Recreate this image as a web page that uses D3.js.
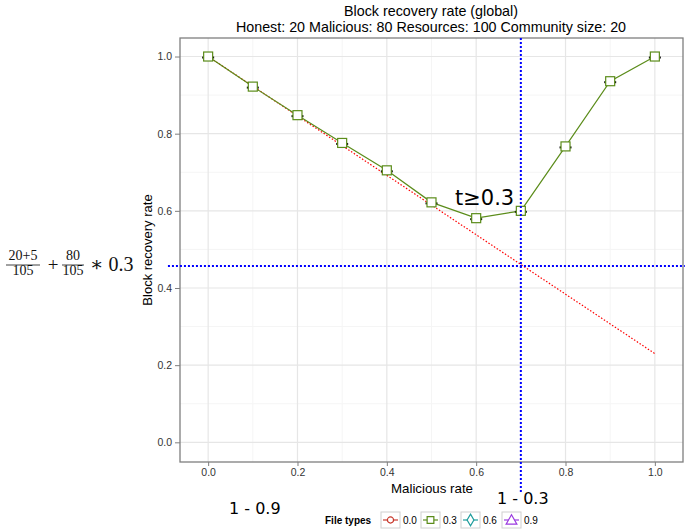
<!DOCTYPE html>
<html>
<head>
<meta charset="utf-8">
<script src="https://cdn.jsdelivr.net/npm/d3@7"></script>
<style>
  body { margin: 0; background: #fff; }
  svg { font-family: "Liberation Sans", Arial, sans-serif; }
</style>
</head>
<body>
<div id="chart"></div>
<script>
const rates = [0.0, 0.1, 0.2, 0.3, 0.4, 0.5, 0.6, 0.7, 0.8, 0.9, 1.0];
const recovery = [1.0, 0.922, 0.848, 0.776, 0.705, 0.622, 0.581, 0.600, 0.767, 0.936, 1.0];
const bound = [1.0, 0.923, 0.846, 0.769, 0.692, 0.615, 0.538, 0.461, 0.384, 0.307, 0.23];
const xTicks = [0.0, 0.2, 0.4, 0.6, 0.8, 1.0];
const yTicks = [0.0, 0.2, 0.4, 0.6, 0.8, 1.0];
const fileTypes = ['0.0', '0.3', '0.6', '0.9'];
const typeColors = ['#c8382c', '#5b8c1a', '#1e9c9c', '#9b3be0'];
const thresholdX = 0.7;
const thresholdY = 0.457;

const W = 685, H = 530;
const xScale = d3.scaleLinear().domain([-0.063, 1.063]).range([180, 683]);
const yScale = d3.scaleLinear().domain([-0.051, 1.048]).range([462, 38]);

const svg = d3.select('#chart').append('svg')
  .attr('width', W).attr('height', H);

// titles
svg.append('text').attr('x', 431).attr('y', 16).attr('text-anchor', 'middle')
  .attr('font-size', 14.3).text('Block recovery rate (global)');
svg.append('text').attr('x', 431).attr('y', 32).attr('text-anchor', 'middle')
  .attr('font-size', 14.3).text('Honest: 20 Malicious: 80 Resources: 100 Community size: 20');

// panel
const [x0, x1] = xScale.range();
const [y0, y1] = yScale.range();
svg.append('rect').attr('x', x0).attr('y', y1).attr('width', x1 - x0).attr('height', y0 - y1)
  .attr('fill', '#fff');

const minor = d3.range(0.1, 1.0, 0.2);
svg.append('g').selectAll('line.vmin').data(minor).join('line')
  .attr('x1', d => xScale(d)).attr('x2', d => xScale(d)).attr('y1', y1).attr('y2', y0)
  .attr('stroke', '#f5f5f5').attr('stroke-width', 1);
svg.append('g').selectAll('line.hmin').data(minor).join('line')
  .attr('y1', d => yScale(d)).attr('y2', d => yScale(d)).attr('x1', x0).attr('x2', x1)
  .attr('stroke', '#f5f5f5').attr('stroke-width', 1);
svg.append('g').selectAll('line.vmaj').data(xTicks).join('line')
  .attr('x1', d => xScale(d)).attr('x2', d => xScale(d)).attr('y1', y1).attr('y2', y0)
  .attr('stroke', '#e6e6e6').attr('stroke-width', 1.2);
svg.append('g').selectAll('line.hmaj').data(yTicks).join('line')
  .attr('y1', d => yScale(d)).attr('y2', d => yScale(d)).attr('x1', x0).attr('x2', x1)
  .attr('stroke', '#e6e6e6').attr('stroke-width', 1.2);

// axes
const xAxis = svg.append('g').attr('transform', `translate(0,${y0})`)
  .call(d3.axisBottom(xScale).tickValues(xTicks).tickFormat(d3.format('.1f')).tickSize(4).tickPadding(3));
const yAxis = svg.append('g').attr('transform', `translate(${x0},0)`)
  .call(d3.axisLeft(yScale).tickValues(yTicks).tickFormat(d3.format('.1f')).tickSize(5).tickPadding(3));
[xAxis, yAxis].forEach(a => {
  a.select('.domain').remove();
  a.attr('font-size', 10.5);
  a.selectAll('line').attr('stroke', '#7f7f7f');
  a.selectAll('text').attr('fill', '#333')
    .attr('font-family', '"Liberation Sans", Arial, sans-serif');
});

svg.append('rect').attr('x', x0).attr('y', y1).attr('width', x1 - x0).attr('height', y0 - y1)
  .attr('fill', 'none').attr('stroke', '#7f7f7f').attr('stroke-width', 1.3);

svg.append('text').attr('x', 432).attr('y', 493).attr('text-anchor', 'middle')
  .attr('font-size', 13.3).text('Malicious rate');
svg.append('text').attr('transform', `translate(152,${(y0 + y1) / 2}) rotate(-90)`)
  .attr('text-anchor', 'middle').attr('font-size', 13).text('Block recovery rate');

// red dotted bound
const line = d3.line().x((d, i) => xScale(rates[i])).y(d => yScale(d));
svg.append('path').datum(bound).attr('d', line)
  .attr('fill', 'none').attr('stroke', '#ff0000').attr('stroke-width', 1.2)
  .attr('stroke-dasharray', '1.5,1.8');

// green series
svg.append('path').datum(recovery).attr('d', line)
  .attr('fill', 'none').attr('stroke', typeColors[1]).attr('stroke-width', 1.2);

// error bar caps
svg.append('g').selectAll('line').data(recovery).join('line')
  .attr('x1', (d, i) => xScale(rates[i]) - 6).attr('x2', (d, i) => xScale(rates[i]) + 6)
  .attr('y1', d => yScale(d) + 1).attr('y2', d => yScale(d) + 1)
  .attr('stroke', '#111').attr('stroke-width', 2);

svg.append('g').selectAll('rect').data(recovery).join('rect')
  .attr('x', (d, i) => xScale(rates[i]) - 4.5).attr('y', d => yScale(d) - 4.5)
  .attr('width', 9).attr('height', 9)
  .attr('fill', '#fff').attr('stroke', typeColors[1]).attr('stroke-width', 1.2);

// threshold lines
svg.append('line')
  .attr('x1', xScale(-0.09)).attr('x2', xScale(1.067))
  .attr('y1', yScale(thresholdY)).attr('y2', yScale(thresholdY))
  .attr('stroke', '#0000ff').attr('stroke-width', 2).attr('stroke-dasharray', '2,2');
svg.append('line')
  .attr('x1', xScale(thresholdX)).attr('x2', xScale(thresholdX))
  .attr('y1', yScale(1.048)).attr('y2', yScale(-0.131))
  .attr('stroke', '#0000ff').attr('stroke-width', 2).attr('stroke-dasharray', '2,2');

// annotations
svg.append('text').attr('x', 455).attr('y', 205).attr('font-size', 21)
  .attr('font-family', '"DejaVu Sans", sans-serif').text('t≥0.3');
svg.append('text').attr('x', 229).attr('y', 514).attr('font-size', 16)
  .attr('font-family', '"DejaVu Sans", sans-serif').text('1 - 0.9');
svg.append('text').attr('x', 497).attr('y', 504).attr('font-size', 16)
  .attr('font-family', '"DejaVu Sans", sans-serif').text('1 - 0.3');

// formula
const f = svg.append('g').attr('font-family', '"Liberation Serif", "DejaVu Serif", serif')
  .attr('fill', '#111');
const fy = 265;
function frac(cx, hw, num, den) {
  f.append('text').attr('x', cx).attr('y', fy - 5).attr('text-anchor', 'middle')
    .attr('font-size', 14).text(num);
  f.append('text').attr('x', cx).attr('y', fy + 10).attr('text-anchor', 'middle')
    .attr('font-size', 14).text(den);
  f.append('line').attr('x1', cx - hw).attr('x2', cx + hw).attr('y1', fy).attr('y2', fy)
    .attr('stroke', '#111').attr('stroke-width', 0.8);
}
frac(23, 17, '20+5', '105');
f.append('text').attr('x', 53).attr('y', fy + 6).attr('text-anchor', 'middle')
  .attr('font-size', 19).text('+');
frac(73, 11, '80', '105');
f.append('text').attr('x', 90).attr('y', fy + 6).attr('font-size', 20).text('∗ 0.3');

// legend
const lg = svg.append('g');
lg.append('text').attr('x', 325).attr('y', 524).attr('font-size', 10).attr('font-weight', 'bold')
  .text('File types');
const keyX = [381, 421, 461, 502];
const ky = 520;
fileTypes.forEach((t, i) => {
  const kx = keyX[i];
  const c = typeColors[i];
  lg.append('rect').attr('x', kx).attr('y', ky - 8).attr('width', 19).attr('height', 16)
    .attr('fill', '#fff').attr('stroke', '#d0d0d0').attr('stroke-width', 1);
  lg.append('line').attr('x1', kx + 2).attr('x2', kx + 17).attr('y1', ky).attr('y2', ky)
    .attr('stroke', c).attr('stroke-width', 1.2);
  const cx = kx + 9.5;
  const sym = [d3.symbolCircle, d3.symbolSquare, d3.symbolDiamond, d3.symbolTriangle][i];
  const size = [30, 45, 40, 50][i];
  lg.append('path').attr('d', d3.symbol(sym, size)())
    .attr('transform', `translate(${cx},${ky + (i === 3 ? 1 : 0)})`)
    .attr('fill', '#fff').attr('stroke', c).attr('stroke-width', 1.2);
  lg.append('text').attr('x', kx + 22).attr('y', ky + 4).attr('font-size', 10).text(t);
});
</script>
</body>
</html>
